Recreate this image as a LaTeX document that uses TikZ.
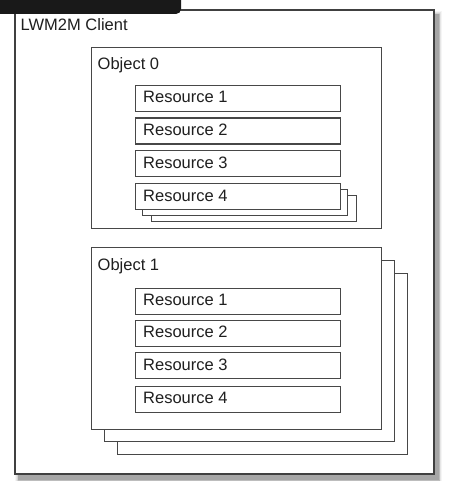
\documentclass[tikz,border=0pt]{standalone}
\usepackage{fontspec}
\setmainfont{Liberation Sans}
\begin{document}
\begin{tikzpicture}[x=1pt,y=-1pt,
  box/.style={draw=black!72, line width=1.3pt, fill=white, rectangle, inner sep=0pt, anchor=north west},
  outerbox/.style={draw=black!75, line width=1.8pt, fill=white, rectangle, inner sep=0pt, anchor=north west},
  lbl/.style={anchor=base west, inner sep=0pt, font=\fontsize{16.5}{18}\selectfont, text=black!88},
  shadowbox/.style={fill=black, rectangle, inner sep=0pt, anchor=north west}]
\useasboundingbox (0,0) rectangle (448,481);
\fill[white] (0,0) rectangle (448,481);
% outer shadow
\foreach \d/\o in {8/0.04,6/0.06,4.5/0.08,3/0.1,1.5/0.12}{
  \node[shadowbox, fill opacity=\o, minimum width={419+\d}, minimum height={464+\d}] at ({14+5-\d/2},{9+6-\d/2}) {};
}
\node[outerbox, minimum width=419, minimum height=464] (client) at (14,9) {};
\node[lbl] (clientlbl) at (20.5,30.5) {LWM2M Client};
% black bar
\fill[black!90, rounded corners=5pt] (-10,-10) rectangle (181,14);
\node[inner sep=0pt] (bar) at (90,2) {};
% Object 0
\node[box, minimum width=290, minimum height=181] (obj0) at (91,47) {};
\node[lbl] (obj0lbl) at (97.5,70) {Object 0};
\node[box, minimum width=205, minimum height=26] (o0r1) at (135,85) {};
\node[lbl] (o0r1l) at (143,103) {Resource 1};
\node[box, minimum width=205, minimum height=26] (o0r2) at (135,117.5) {};
\node[lbl] (o0r2l) at (143,135.5) {Resource 2};
\node[box, minimum width=205, minimum height=26] (o0r3) at (135,150) {};
\node[lbl] (o0r3l) at (143,168) {Resource 3};
\node[box, minimum width=205, minimum height=26] (o0r4c) at (151,195) {};
\node[box, minimum width=205, minimum height=26] (o0r4b) at (142,189) {};
\node[box, minimum width=205, minimum height=26] (o0r4) at (135,183) {};
\node[lbl] (o0r4l) at (143,201) {Resource 4};
% Object 1
\node[box, minimum width=290, minimum height=181] (obj1c) at (117,273) {};
\node[box, minimum width=290, minimum height=181] (obj1b) at (104,260) {};
\node[box, minimum width=290, minimum height=182] (obj1) at (91,247) {};
\node[lbl] (obj1lbl) at (97.5,270) {Object 1};
\node[box, minimum width=205, minimum height=26] (o1r1) at (135,287.5) {};
\node[lbl] (o1r1l) at (143,305.5) {Resource 1};
\node[box, minimum width=205, minimum height=26] (o1r2) at (135,319.5) {};
\node[lbl] (o1r2l) at (143,337.5) {Resource 2};
\node[box, minimum width=205, minimum height=26] (o1r3) at (135,352) {};
\node[lbl] (o1r3l) at (143,370) {Resource 3};
\node[box, minimum width=205, minimum height=26] (o1r4) at (135,385.5) {};
\node[lbl] (o1r4l) at (143,403.5) {Resource 4};
\end{tikzpicture}
\end{document}
